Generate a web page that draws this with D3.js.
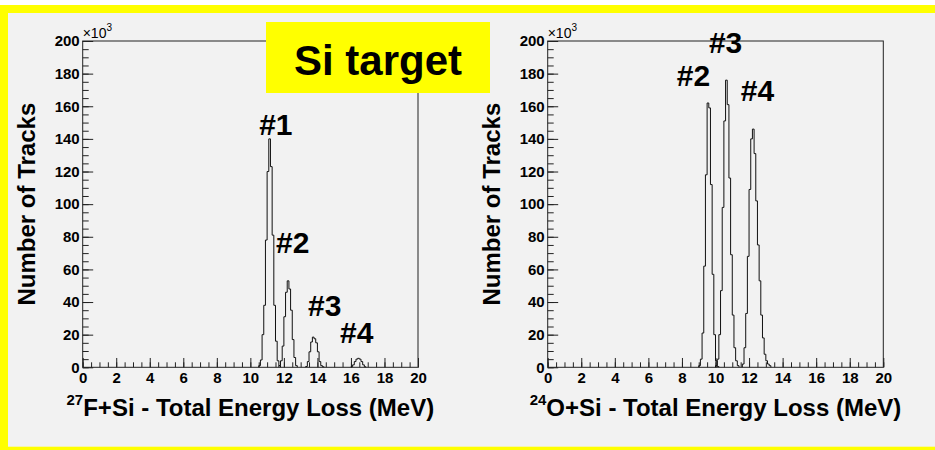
<!DOCTYPE html>
<html>
<head>
<meta charset="utf-8">
<script src="https://cdn.jsdelivr.net/npm/d3@7"></script>
<style>
  body { margin: 0; background: #fff; }
  text { font-family: "Liberation Sans", Arial, Helvetica, sans-serif; }
</style>
</head>
<body>
<div id="chart"></div>
<script>
(function() {
  var width = 935,
      height = 450;

  // counts in thousands, 0.1 MeV bins
  var binWidth = 0.1;

  var fStarts = [10.5, 11.7, 13.3, 16.0];
  var fPeak1 = [1, 4.5, 20, 38, 78, 120, 140, 123, 81, 38, 16, 4, 1];
  var fPeak2 = [1, 4, 13, 31, 46, 53, 48, 35, 17, 6, 1];
  var fPeak3 = [0.5, 3.5, 9.5, 15.5, 18.5, 17.5, 15, 9.5, 3.5, 1, 0.3];
  var fPeak4 = [0.3, 1.5, 3.5, 5, 5.5, 5, 3.5, 1.5, 0.3];

  var oStarts = [9.0, 10.0, 11.6];
  var oPeak2 = [1, 5, 21, 62, 118, 162, 159, 112, 57, 20, 4, 0.5];
  var oPeak3 = [1, 5, 20, 47, 98, 151, 176, 161, 116, 69, 32, 12, 4, 1];
  var oPeak4 = [2, 12, 33, 68, 109, 140, 146, 131, 102, 75, 53, 32, 18, 8, 4, 2, 1];

  var fLabels = ["#1", "#2", "#3", "#4"];
  var fLabelE = [11.52, 12.53, 14.44, 16.35];
  var fLabelN = [142.4, 70.1, 31.6, 15.1];

  var oLabels = ["#2", "#3", "#4"];
  var oLabelE = [8.69, 10.6, 12.5];
  var oLabelN = [172.4, 192.5, 163.2];

  var xTicks = [0, 2, 4, 6, 8, 10, 12, 14, 16, 18, 20];
  var yTicks = [0, 20, 40, 60, 80, 100, 120, 140, 160, 180, 200];

  var svg = d3.select("#chart")
    .append("svg")
    .attr("width", width)
    .attr("height", height)

  svg.append("rect")
    .attr("x", 0).attr("y", 5)
    .attr("width", width).attr("height", height - 5)
    .attr("fill", "#ffff00")

  svg.append("rect")
    .attr("x", 8).attr("y", 13)
    .attr("width", width - 8).attr("height", 446.7 - 13)
    .attr("fill", "#f2f2f2")

  var top = 41, bottom = 367.3

  var y = d3.scaleLinear().domain([0, 200]).range([bottom, top])

  function drawPanel(left, right, peaks, starts, labels, labelE, labelN, mass, name) {
    var x = d3.scaleLinear().domain([0, 20]).range([left, right])
    var g = svg.append("g")

    // minor ticks
    g.append("g")
      .attr("transform", "translate(" + left + ",0)")
      .call(d3.axisLeft(y).tickValues(d3.range(0, 201, 5)).tickSizeInner(-6).tickSizeOuter(0).tickFormat(""))
    g.append("g")
      .attr("transform", "translate(0," + bottom + ")")
      .call(d3.axisBottom(x).tickValues(d3.range(0, 20.01, 0.5)).tickSizeInner(-5).tickSizeOuter(0).tickFormat(""))

    g.append("g")
      .attr("transform", "translate(" + left + ",0)")
      .call(d3.axisLeft(y).tickValues(yTicks).tickSizeInner(-10.5).tickSizeOuter(0).tickPadding(3))
    g.append("g")
      .attr("transform", "translate(0," + bottom + ")")
      .call(d3.axisBottom(x).tickValues(xTicks).tickSizeInner(-9.3).tickSizeOuter(0).tickPadding(5))

    g.selectAll(".domain").remove()
    g.selectAll(".tick line").attr("stroke", "#222")
    g.selectAll(".tick text")
      .attr("fill", "#000")
      .style("font-size", "15px")
      .style("font-weight", "bold")
      .style("font-family", "'Liberation Sans', Arial, sans-serif")

    // histograms
    var line = d3.line()
      .x(function(d) { return x(d[0]) })
      .y(function(d) { return y(d[1]) })
      .curve(d3.curveStepAfter)

    peaks.forEach(function(counts, i) {
      var pts = [[starts[i], 0]]
      counts.forEach(function(c, j) {
        pts.push([starts[i] + j * binWidth, c])
      })
      pts.push([starts[i] + counts.length * binWidth, 0])
      g.append("path")
        .attr("d", line(pts))
        .attr("fill", "none")
        .attr("stroke", "#111")
        .attr("stroke-width", 1)
    })

    g.append("rect")
      .attr("x", left).attr("y", top)
      .attr("width", right - left).attr("height", bottom - top)
      .attr("fill", "none")
      .attr("stroke", "#222")
      .attr("stroke-width", 1)

    // x10^3
    var exp = g.append("text")
      .attr("x", left)
      .attr("y", top - 3)
      .style("font-size", "14px")
    exp.append("tspan").text("\u00d710")
    exp.append("tspan").attr("dy", -7).style("font-size", "10px").text("3")

    g.append("text")
      .attr("transform", "translate(" + (left - 47.7) + "," + ((top + bottom) / 2) + ") rotate(-90)")
      .attr("text-anchor", "middle")
      .style("font-size", "24px")
      .style("font-weight", "bold")
      .text("Number of Tracks")

    var title = g.append("text")
      .attr("x", (left + right) / 2)
      .attr("y", 416)
      .attr("text-anchor", "middle")
      .style("font-size", "24px")
      .style("font-weight", "bold")
    title.append("tspan").attr("dy", -11).style("font-size", "15px").text(mass)
    title.append("tspan").attr("dy", 11).text(name + "+Si - Total Energy Loss (MeV)")

    g.selectAll(".peak-label")
      .data(labels)
      .enter().append("text")
      .attr("class", "peak-label")
      .attr("x", function(d, i) { return x(labelE[i]) })
      .attr("y", function(d, i) { return y(labelN[i]) })
      .attr("text-anchor", "middle")
      .style("font-size", "30px")
      .style("font-weight", "bold")
      .text(function(d) { return d })
  }

  drawPanel(82.7, 418, [fPeak1, fPeak2, fPeak3, fPeak4], fStarts, fLabels, fLabelE, fLabelN, "27", "F")
  drawPanel(547.7, 883.3, [oPeak2, oPeak3, oPeak4], oStarts, oLabels, oLabelE, oLabelN, "24", "O")

  // title box
  svg.append("rect")
    .attr("x", 266).attr("y", 22)
    .attr("width", 224).attr("height", 71)
    .attr("fill", "#ffff00")

  svg.append("text")
    .attr("x", 378)
    .attr("y", 75)
    .attr("text-anchor", "middle")
    .style("font-size", "42px")
    .style("font-weight", "bold")
    .text("Si target")
})();
</script>
</body>
</html>
